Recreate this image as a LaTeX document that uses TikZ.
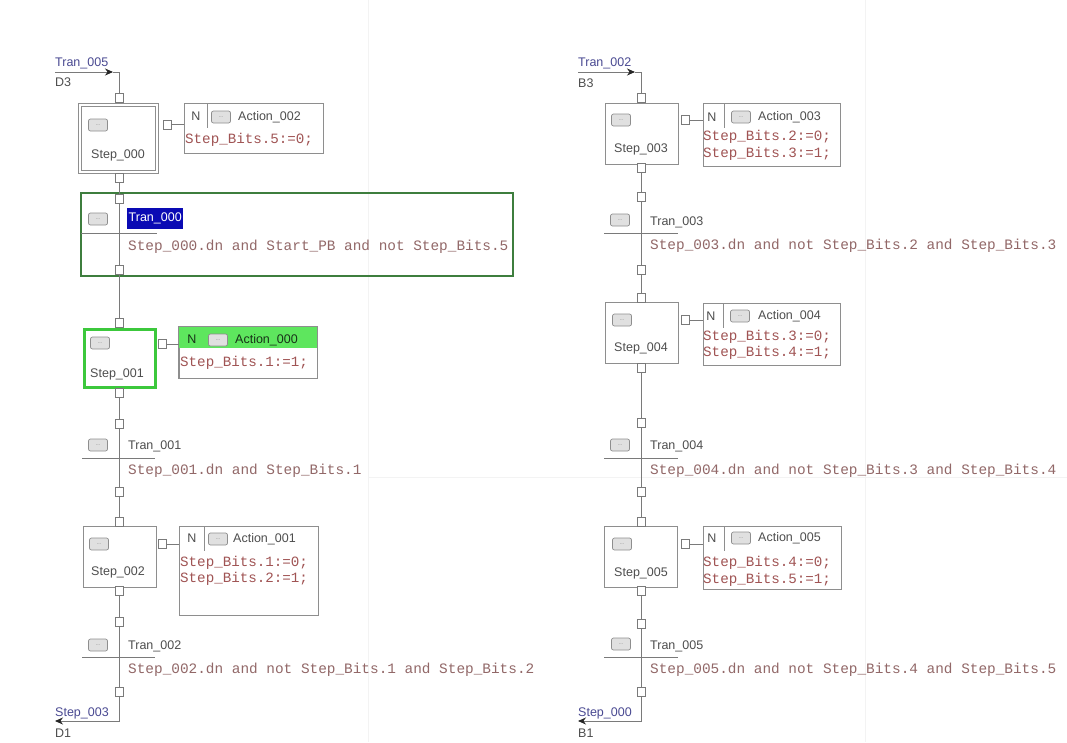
\documentclass[tikz,border=0pt]{standalone}
\usepackage{fontspec}
\setmainfont{Liberation Sans}
\newfontfamily\codefont{Liberation Mono}
\usetikzlibrary{arrows.meta}
\definecolor{ln}{HTML}{7A7A7A}
\definecolor{bx}{HTML}{8E8E8E}
\definecolor{tx}{HTML}{4E4E4E}
\definecolor{cd}{HTML}{A05454}
\definecolor{cond}{HTML}{926868}
\definecolor{lk}{HTML}{4A4A92}
\definecolor{gdark}{HTML}{3E7E3E}
\definecolor{gbright}{HTML}{3CC83C}
\definecolor{gfill}{HTML}{5EE65E}
\definecolor{hl}{HTML}{0A0AB4}
\definecolor{grid}{HTML}{F3F3F3}
\definecolor{tipc}{HTML}{262626}
\tikzset{
  wire/.style={draw=ln, line width=0.9pt},
  stepbox/.style={draw=bx, fill=white, line width=0.9pt, minimum width=73pt, minimum height=61pt, inner sep=0pt},
  actbox/.style={draw=bx, fill=white, line width=0.9pt, inner sep=0pt},
  connsq/.style={draw=ln, fill=white, line width=0.8pt, minimum width=8pt, minimum height=9pt, inner sep=0pt},
  iconbox/.style={draw=bx, fill=black!12, rounded corners=2pt, line width=0.7pt, minimum width=19pt, minimum height=12pt, inner sep=0pt, font=\fontsize{5}{5}\selectfont, text=black!55},
  lbl/.style={font=\fontsize{12.5}{14}\selectfont, text=tx, inner sep=0pt},
  lnk/.style={font=\fontsize{12.5}{14}\selectfont, text=lk, inner sep=0pt, anchor=base west},
  code/.style={font=\codefont\fontsize{14.2}{16}\selectfont, text=cd, inner sep=0pt, anchor=west},
  condt/.style={font=\codefont\fontsize{14.4}{16}\selectfont, text=cond, inner sep=0pt, anchor=west},
  tbar/.style={draw=ln, line width=1pt},
  arr/.style={wire, -{Stealth[length=8pt,width=7pt,color=tipc]}},
}
\begin{document}
\begin{tikzpicture}[x=1pt,y=-1pt]
\useasboundingbox[fill=white] (0,0) rectangle (1067,742);
% faint page grid
\draw[grid, line width=0.8pt] (368,0) -- (368,742);
\draw[grid, line width=0.8pt] (865,0) -- (865,742);
\draw[grid, line width=0.8pt] (368,477) -- (1067,477);

%================ LEFT COLUMN =================
\coordinate (inL) at (55,72);
\coordinate (inLa) at (113,72);
\coordinate (inLc) at (119,72);
\node[lnk] (inLt) at (55,66) {Tran\_005};
\node[lbl, anchor=base west] (inLd) at (55,86) {D3};

% Step_000 (initial step, double border)
\node[stepbox, minimum width=77pt, minimum height=67pt, double=white, double distance=2.2pt, draw=bx, line width=0.8pt] (s0) at (118.5,138.5) {};
\node[iconbox] (s0i) at (98,125) {...};
\node[lbl] (s0l) at (118,155) {Step\_000};
\node[connsq] (s0t) at (119,98) {};
\node[connsq] (s0b) at (119,178) {};
\draw[arr] (inL) -- (inLa);
\draw[wire] (inLa) -- (inLc) -- (s0t.north);
% Action_002
\node[actbox, minimum width=139pt, minimum height=50pt] (a0) at (253.5,128) {};
\node[connsq] (a0c) at (167,124.5) {};
\draw[wire] (a0c.east) -- (a0.west |- a0c.east);
\node[lbl] (a0n) at (196,116) {N};
\draw[wire, draw=bx] (207,104) -- (207,128);
\node[iconbox] (a0i) at (221,117) {...};
\node[lbl, anchor=west] (a0t) at (238,117) {Action\_002};
\node[code] (a0x) at (185,140) {Step\_Bits.5:=0;};

% Tran_000 (selected, green frame)
\node[draw=gdark, line width=1.6pt, minimum width=432pt, minimum height=83pt, inner sep=0pt] (t0f) at (297,234.5) {};
\node[connsq] (t0t) at (119,199) {};
\node[connsq] (t0b) at (119,270) {};
\draw[wire] (s0b.south) -- (t0t.north);
\draw[wire] (t0t.south) -- (t0b.north);
\draw[tbar] (81,233) -- (157,233);
\node[iconbox] (t0i) at (98,219) {...};
\node[lbl, fill=hl, text=white, anchor=west, inner sep=1.5pt, minimum height=21pt] (t0l) at (127,218) {Tran\_000};
\node[condt] (t0c) at (128,247) {Step\_000.dn and Start\_PB and not Step\_Bits.5};

% Step_001 (active, green)
\node[stepbox, draw=gbright, line width=3pt, minimum width=71pt, minimum height=58pt] (s1) at (119.5,358) {};
\node[iconbox] (s1i) at (100,343) {...};
\node[lbl] (s1l) at (117,374) {Step\_001};
\node[connsq] (s1t) at (119,323) {};
\node[connsq] (s1b) at (119,392.5) {};
\draw[wire] (t0b.south) -- (s1t.north);
% Action_000
\node[actbox, minimum width=138pt, minimum height=51pt] (a1) at (248,352.5) {};
\fill[gfill] ([shift={(0.5pt,-0.5pt)}]a1.north west) rectangle (316.5,348);
\draw[draw=bx, line width=0.9pt] (a1.north west) rectangle (a1.south east);
\node[connsq] (a1c) at (162,344) {};
\draw[wire] (a1c.east) -- (a1.west |- a1c.east);
\node[lbl, text=black!60!gdark] (a1n) at (192,339) {N};
\node[iconbox] (a1i) at (218,340) {...};
\node[lbl, anchor=west, text=black!60!gdark] (a1t) at (235,340) {Action\_000};
\node[code] (a1x) at (180,363) {Step\_Bits.1:=1;};

% Tran_001
\node[connsq] (t1t) at (119,424) {};
\node[connsq] (t1b) at (119,492) {};
\draw[wire] (s1b.south) -- (t1t.north);
\draw[wire] (t1t.south) -- (t1b.north);
\draw[tbar] (82,458) -- (155,458);
\node[iconbox] (t1i) at (98,445) {...};
\node[lbl, anchor=west] (t1l) at (128,446) {Tran\_001};
\node[condt] (t1c) at (128,471) {Step\_001.dn and Step\_Bits.1};

% Step_002
\node[stepbox] (s2) at (120,556.5) {};
\node[iconbox] (s2i) at (99,544) {...};
\node[lbl] (s2l) at (118,572) {Step\_002};
\node[connsq] (s2t) at (119,522) {};
\node[connsq] (s2b) at (119,591) {};
\draw[wire] (t1b.south) -- (s2t.north);
% Action_001
\node[actbox, minimum width=139pt, minimum height=89pt] (a2) at (248.5,570.5) {};
\node[connsq] (a2c) at (162,544) {};
\draw[wire] (a2c.east) -- (a2.west |- a2c.east);
\node[lbl] (a2n) at (192,538) {N};
\draw[wire, draw=bx] (204,527) -- (204,551);
\node[iconbox] (a2i) at (218,539) {...};
\node[lbl, anchor=west] (a2t) at (233,539) {Action\_001};
\node[code] (a2x) at (180,563) {Step\_Bits.1:=0;};
\node[code] (a2y) at (180,579) {Step\_Bits.2:=1;};

% Tran_002
\node[connsq] (t2t) at (119,622) {};
\node[connsq] (t2b) at (119,692) {};
\draw[wire] (s2b.south) -- (t2t.north);
\draw[wire] (t2t.south) -- (t2b.north);
\draw[tbar] (82,657) -- (155,657);
\node[iconbox] (t2i) at (98,645) {...};
\node[lbl, anchor=west] (t2l) at (128,646) {Tran\_002};
\node[condt] (t2c) at (128,670) {Step\_002.dn and not Step\_Bits.1 and Step\_Bits.2};
% output link
\coordinate (outLc) at (119,721);
\coordinate (outL) at (55,721);
\draw[arr] (t2b.south) -- (outLc) -- (outL);
\node[lnk] (outLt) at (55,716) {Step\_003};
\node[lbl, anchor=base west] (outLd) at (55,737) {D1};

%================ RIGHT COLUMN =================
\coordinate (inR) at (578,72);
\coordinate (inRa) at (635,72);
\coordinate (inRc) at (641,72);
\node[lnk] (inRt) at (578,66) {Tran\_002};
\node[lbl, anchor=base west] (inRd) at (578,87) {B3};

% Step_003
\node[stepbox] (s3) at (641.5,133.5) {};
\node[iconbox] (s3i) at (621,120) {...};
\node[lbl] (s3l) at (641,149) {Step\_003};
\node[connsq] (s3t) at (641,98) {};
\node[connsq] (s3b) at (641,168) {};
\draw[arr] (inR) -- (inRa);
\draw[wire] (inRa) -- (inRc) -- (s3t.north);
% Action_003
\node[actbox, minimum width=137pt, minimum height=63pt] (a3) at (771.5,134.5) {};
\node[connsq] (a3c) at (685,120) {};
\draw[wire] (a3c.east) -- (a3.west |- a3c.east);
\node[lbl] (a3n) at (712,117) {N};
\draw[wire, draw=bx] (724,104) -- (724,128);
\node[iconbox] (a3i) at (741,117) {...};
\node[lbl, anchor=west] (a3t) at (758,117) {Action\_003};
\node[code] (a3x) at (703,137) {Step\_Bits.2:=0;};
\node[code] (a3y) at (703,154) {Step\_Bits.3:=1;};

% Tran_003
\node[connsq] (t3t) at (641,197) {};
\node[connsq] (t3b) at (641,270) {};
\draw[wire] (s3b.south) -- (t3t.north);
\draw[wire] (t3t.south) -- (t3b.north);
\draw[tbar] (604,233) -- (678,233);
\node[iconbox] (t3i) at (620,220) {...};
\node[lbl, anchor=west] (t3l) at (650,222) {Tran\_003};
\node[condt] (t3c) at (650,246) {Step\_003.dn and not Step\_Bits.2 and Step\_Bits.3};

% Step_004
\node[stepbox] (s4) at (641.5,333) {};
\node[iconbox] (s4i) at (622,320) {...};
\node[lbl] (s4l) at (641,348) {Step\_004};
\node[connsq] (s4t) at (641,298) {};
\node[connsq] (s4b) at (641,368) {};
\draw[wire] (t3b.south) -- (s4t.north);
% Action_004
\node[actbox, minimum width=137pt, minimum height=62pt] (a4) at (771.5,334) {};
\node[connsq] (a4c) at (685,320) {};
\draw[wire] (a4c.east) -- (a4.west |- a4c.east);
\node[lbl] (a4n) at (711,316) {N};
\draw[wire, draw=bx] (723,304) -- (723,328);
\node[iconbox] (a4i) at (740,316) {...};
\node[lbl, anchor=west] (a4t) at (758,316) {Action\_004};
\node[code] (a4x) at (703,337) {Step\_Bits.3:=0;};
\node[code] (a4y) at (703,353) {Step\_Bits.4:=1;};

% Tran_004
\node[connsq] (t4t) at (641,423) {};
\node[connsq] (t4b) at (641,492) {};
\draw[wire] (s4b.south) -- (t4t.north);
\draw[wire] (t4t.south) -- (t4b.north);
\draw[tbar] (604,458) -- (678,458);
\node[iconbox] (t4i) at (620,445) {...};
\node[lbl, anchor=west] (t4l) at (650,446) {Tran\_004};
\node[condt] (t4c) at (650,471) {Step\_004.dn and not Step\_Bits.3 and Step\_Bits.4};

% Step_005
\node[stepbox] (s5) at (641,556.5) {};
\node[iconbox] (s5i) at (622,544) {...};
\node[lbl] (s5l) at (641,573) {Step\_005};
\node[connsq] (s5t) at (641,522) {};
\node[connsq] (s5b) at (641,591) {};
\draw[wire] (t4b.south) -- (s5t.north);
% Action_005
\node[actbox, minimum width=138pt, minimum height=63pt] (a5) at (772,557.5) {};
\node[connsq] (a5c) at (685,544) {};
\draw[wire] (a5c.east) -- (a5.west |- a5c.east);
\node[lbl] (a5n) at (712,538) {N};
\draw[wire, draw=bx] (724,527) -- (724,551);
\node[iconbox] (a5i) at (741,538) {...};
\node[lbl, anchor=west] (a5t) at (758,538) {Action\_005};
\node[code] (a5x) at (703,563) {Step\_Bits.4:=0;};
\node[code] (a5y) at (703,580) {Step\_Bits.5:=1;};

% Tran_005
\node[connsq] (t5t) at (641,624) {};
\node[connsq] (t5b) at (641,692) {};
\draw[wire] (s5b.south) -- (t5t.north);
\draw[wire] (t5t.south) -- (t5b.north);
\draw[tbar] (604,657) -- (678,657);
\node[iconbox] (t5i) at (621,644) {...};
\node[lbl, anchor=west] (t5l) at (650,646) {Tran\_005};
\node[condt] (t5c) at (650,670) {Step\_005.dn and not Step\_Bits.4 and Step\_Bits.5};
% output link
\coordinate (outRc) at (641,721);
\coordinate (outR) at (578,721);
\draw[arr] (t5b.south) -- (outRc) -- (outR);
\node[lnk] (outRt) at (578,716) {Step\_000};
\node[lbl, anchor=base west] (outRd) at (578,737) {B1};
\end{tikzpicture}
\end{document}
